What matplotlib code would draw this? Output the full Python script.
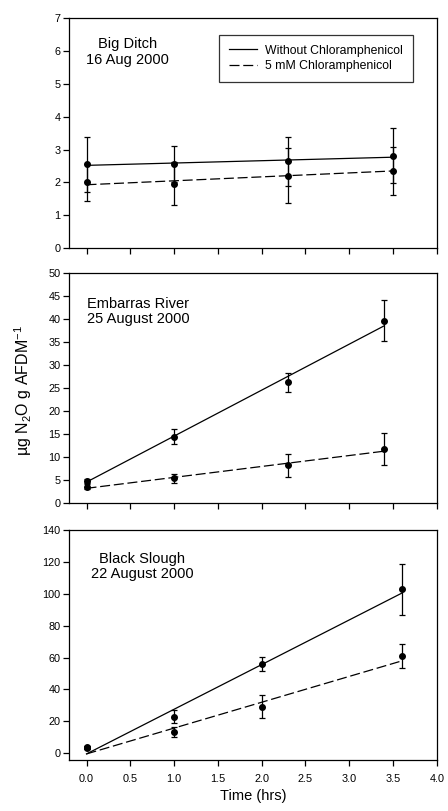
import matplotlib
matplotlib.use("Agg")
import matplotlib.pyplot as plt
import numpy as np

plt.rcParams['font.family'] = ['Liberation Sans', 'DejaVu Sans']
plt.rcParams['mathtext.fontset'] = 'custom'
plt.rcParams['mathtext.rm'] = 'Liberation Sans'

series_labels = ["Without Chloramphenicol", "5 mM Chloramphenicol"]

# Big Ditch
bd_time = [0.0, 1.0, 2.3, 3.5]
bd_without = [2.55, 2.57, 2.64, 2.82]
bd_without_err = [0.83, 0.55, 0.74, 0.83]
bd_with = [2.00, 1.96, 2.21, 2.35]
bd_with_err = [0.57, 0.66, 0.84, 0.72]
bd_fit = [(0.071, 2.52), (0.12, 1.93)]  # (slope, intercept)

# Embarras River
er_time = [0.0, 1.0, 2.3, 3.4]
er_without = [4.8, 14.45, 26.2, 39.6]
er_without_err = [0.5, 1.6, 2.0, 4.4]
er_with = [3.6, 5.4, 8.2, 11.8]
er_with_err = [0.5, 1.0, 2.4, 3.4]
er_fit = [(9.97, 4.6), (2.37, 3.25)]

# Black Slough
bs_time = [0.0, 1.0, 2.0, 3.6]
bs_without = [3.8, 23.0, 56.0, 102.8]
bs_without_err = [0.8, 4.2, 4.2, 16.0]
bs_with = [3.5, 13.2, 29.3, 61.0]
bs_with_err = [0.8, 3.0, 7.0, 7.7]
bs_fit = [(28.0, -0.4), (16.2, -0.4)]

panels = [
    dict(t=bd_time, a=bd_without, ae=bd_without_err, b=bd_with, be=bd_with_err, fit=bd_fit,
         ylim=(0, 7), yticks=np.arange(0, 8, 1), title="Big Ditch\n16 Aug 2000",
         tpos=(0.158, 0.853), ha='center', rect=[0.154, 0.694, 0.821, 0.2836]),
    dict(t=er_time, a=er_without, ae=er_without_err, b=er_with, be=er_with_err, fit=er_fit,
         ylim=(0, 50), yticks=np.arange(0, 55, 5), title="Embarras River\n25 August 2000",
         tpos=(0.048, 0.83), ha='left', rect=[0.154, 0.3794, 0.821, 0.2843]),
    dict(t=bs_time, a=bs_without, ae=bs_without_err, b=bs_with, be=bs_with_err, fit=bs_fit,
         ylim=(-4.2, 140), yticks=np.arange(0, 160, 20), title="Black Slough\n22 August 2000",
         tpos=(0.199, 0.843), ha='center', rect=[0.154, 0.0629, 0.821, 0.2836]),
]

fig = plt.figure(figsize=(4.48, 8.11), dpi=100)
dash = (0, (8, 3))

for i, p in enumerate(panels):
    ax = fig.add_axes(p['rect'])
    t = np.array(p['t'])
    styles = ['-', dash]
    for (vals, errs), (slope, icpt), ls, lab in zip(
            [(p['a'], p['ae']), (p['b'], p['be'])], p['fit'], styles, series_labels):
        ax.errorbar(t, vals, yerr=errs, fmt='o', color='black', markersize=4,
                    elinewidth=0.9, capsize=2.2, capthick=0.9)
        xs = np.array([t[0], t[-1]])
        ax.plot(xs, slope * xs + icpt, color='black', lw=0.9, linestyle=ls, label=lab)
    ax.set_xlim(-0.2, 4.0)
    ax.set_ylim(*p['ylim'])
    ax.set_yticks(p['yticks'])
    ax.set_xticks(np.arange(0, 4.5, 0.5))
    ax.tick_params(direction='out', length=4, width=0.9, labelsize=7.8, pad=2)
    ax.tick_params(axis='x', pad=6)
    for s in ax.spines.values():
        s.set_linewidth(0.9)
    if i < 2:
        ax.set_xticklabels([])
    else:
        ax.set_xticklabels([f"{v:.1f}" for v in np.arange(0, 4.5, 0.5)])
    ax.text(p['tpos'][0], p['tpos'][1], p['title'], transform=ax.transAxes,
            ha=p['ha'], va='center', fontsize=10.5, linespacing=1.1)
    if i == 0:
        leg = ax.legend(loc='upper right', bbox_to_anchor=(0.935, 0.927), borderaxespad=0,
                        fontsize=8.8, frameon=True, fancybox=False, edgecolor='black',
                        handlelength=2.3, borderpad=0.8, labelspacing=0.3, handletextpad=0.65)
        leg.get_frame().set_linewidth(0.9)
    if i == 2:
        ax.set_xlabel("Time (hrs)", fontsize=10.5, labelpad=4)

fig.text(0.051, 0.518, r"µg N$_{\mathregular{2}}$O g AFDM$^{\mathregular{-1}}$",
         rotation=90, ha='center', va='center', fontsize=11.5)

fig.savefig("out.png", dpi=100)
